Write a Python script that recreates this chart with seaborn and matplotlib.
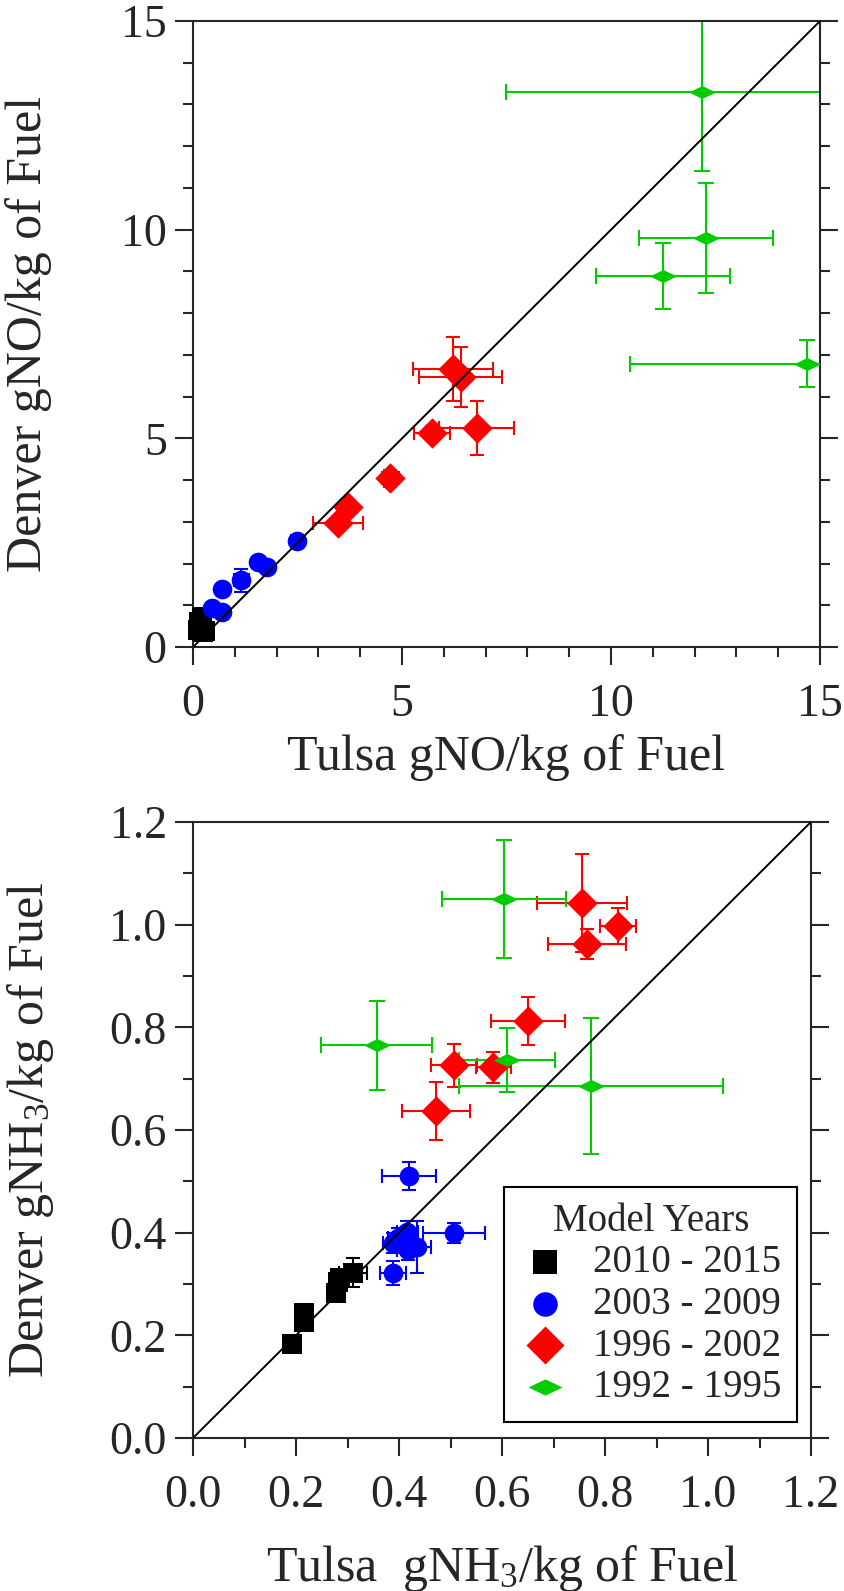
import matplotlib
matplotlib.use("Agg")
import matplotlib.pyplot as plt
import seaborn as sns
from matplotlib.ticker import MultipleLocator

# -----------------------------------------------------------------------------
# DATOS
# -----------------------------------------------------------------------------
labels = ["2010 - 2015", "2003 - 2009", "1996 - 2002", "1992 - 1995"]
colors = ["#000000", "#0000FF", "#FF0000", "#00CC00"]

# Panel superior: gNO/kg de combustible
no_tulsa_2010 = [0.12, 0.20, 0.25, 0.15, 0.22, 0.28]
no_denver_2010 = [0.40, 0.45, 0.35, 0.60, 0.72, 0.38]
no_xerr_2010 = [0.05, 0.05, 0.05, 0.05, 0.05, 0.05]
no_yerr_2010 = [0.05, 0.05, 0.05, 0.05, 0.05, 0.05]

no_tulsa_2003 = [2.49, 1.77, 1.55, 1.15, 0.69, 0.45, 0.69]
no_denver_2003 = [2.54, 1.91, 2.03, 1.60, 1.39, 0.93, 0.84]
no_xerr_2003 = [0.10, 0.12, 0.12, 0.18, 0.08, 0.08, 0.08]
no_yerr_2003 = [0.15, 0.10, 0.10, 0.28, 0.08, 0.08, 0.08]

no_tulsa_1996 = [6.22, 6.40, 6.79, 5.72, 4.72, 3.70, 3.46]
no_denver_1996 = [6.67, 6.46, 5.24, 5.14, 4.04, 3.35, 2.97]
no_xerr_1996 = [0.95, 1.00, 0.90, 0.43, 0.20, 0.15, 0.60]
no_yerr_1996 = [0.77, 0.72, 0.65, 0.15, 0.20, 0.15, 0.12]

no_tulsa_1992 = [12.18, 12.27, 11.25, 14.69]
no_denver_1992 = [13.30, 9.81, 8.90, 6.79]
no_xerr_1992 = [4.69, 1.60, 1.60, 4.24]
no_yerr_1992 = [1.90, 1.32, 0.79, 0.56]

# Panel inferior: gNH3/kg de combustible
nh3_tulsa_2010 = [0.192, 0.216, 0.216, 0.278, 0.282, 0.285, 0.311]
nh3_denver_2010 = [0.183, 0.226, 0.243, 0.282, 0.304, 0.312, 0.322]
nh3_xerr_2010 = [0.010, 0.010, 0.010, 0.012, 0.012, 0.012, 0.027]
nh3_yerr_2010 = [0.010, 0.010, 0.010, 0.012, 0.012, 0.012, 0.028]

nh3_tulsa_2003 = [0.419, 0.507, 0.388, 0.416, 0.388, 0.417, 0.435, 0.398]
nh3_denver_2003 = [0.510, 0.399, 0.321, 0.401, 0.380, 0.366, 0.372, 0.389]
nh3_xerr_2003 = [0.052, 0.060, 0.025, 0.020, 0.020, 0.020, 0.028, 0.020]
nh3_yerr_2003 = [0.027, 0.020, 0.024, 0.022, 0.020, 0.020, 0.050, 0.020]

nh3_tulsa_1996 = [0.755, 0.825, 0.765, 0.650, 0.507, 0.583, 0.472]
nh3_denver_1996 = [1.042, 0.997, 0.962, 0.812, 0.726, 0.722, 0.637]
nh3_xerr_1996 = [0.087, 0.035, 0.075, 0.072, 0.044, 0.034, 0.066]
nh3_yerr_1996 = [0.095, 0.035, 0.030, 0.047, 0.042, 0.030, 0.056]

nh3_tulsa_1992 = [0.604, 0.357, 0.610, 0.773]
nh3_denver_1992 = [1.050, 0.765, 0.736, 0.686]
nh3_xerr_1992 = [0.120, 0.108, 0.093, 0.256]
nh3_yerr_1992 = [0.115, 0.087, 0.063, 0.132]

no_ticks = [0, 5, 10, 15]
nh3_ticks = [0.0, 0.2, 0.4, 0.6, 0.8, 1.0, 1.2]

# -----------------------------------------------------------------------------
# ESTILO
# -----------------------------------------------------------------------------
sns.set_style("ticks")
plt.rcParams["font.family"] = ["Liberation Serif", "DejaVu Serif"]
plt.rcParams["mathtext.fontset"] = "custom"
plt.rcParams["mathtext.rm"] = "Liberation Serif"
plt.rcParams["mathtext.default"] = "regular"

# marcador verde: rombo achatado
flat_diamond = [(-1, 0), (0, 0.48), (1, 0), (0, -0.48), (-1, 0)]
markers = ["s", "o", "D", flat_diamond]
sizes = [190, 200, 240, 380]
caps = [5, 5, 5, 5.5]


def draw_panel(ax, groups, lim, ticks, minor, fmt):
    for (x, y, xe, ye), lab, col, mk, sz, cp in zip(
        groups, labels, colors, markers, sizes, caps
    ):
        ax.errorbar(
            x, y, xerr=xe, yerr=ye, fmt="none", ecolor=col,
            elinewidth=1.5, capsize=cp, capthick=1.5, zorder=2,
        )
        sns.scatterplot(
            x=x, y=y, marker=mk, s=sz, color=col, edgecolor=col,
            linewidth=0, label=lab, ax=ax, zorder=3, clip_on=False,
        )
    ax.plot([0, lim], [0, lim], color="black", linewidth=1.4, zorder=5)
    ax.set_xlim(0, lim)
    ax.set_ylim(0, lim)
    ax.set_xticks(ticks)
    ax.set_yticks(ticks)
    ax.set_xticklabels([fmt.format(t) for t in ticks])
    ax.set_yticklabels([fmt.format(t) for t in ticks])
    ax.xaxis.set_minor_locator(MultipleLocator(minor))
    ax.yaxis.set_minor_locator(MultipleLocator(minor))
    for sp in ax.spines.values():
        sp.set_visible(True)
        sp.set_linewidth(1.5)
    ax.tick_params(which="both", direction="out", top=False, right=True,
                   width=1.5, labelsize=33)
    ax.tick_params(which="major", length=13)
    ax.tick_params(which="minor", length=7)
    ax.tick_params(axis="y", which="major", pad=6)
    ax.tick_params(axis="x", which="major", pad=13)


fig = plt.figure(figsize=(8.44, 15.91), dpi=100)
ax1 = fig.add_axes([0.2287, 0.5933, 0.7429, 0.3935])
ax2 = fig.add_axes([0.2287, 0.0962, 0.7322, 0.3872])

draw_panel(
    ax1,
    [
        (no_tulsa_2010, no_denver_2010, no_xerr_2010, no_yerr_2010),
        (no_tulsa_2003, no_denver_2003, no_xerr_2003, no_yerr_2003),
        (no_tulsa_1996, no_denver_1996, no_xerr_1996, no_yerr_1996),
        (no_tulsa_1992, no_denver_1992, no_xerr_1992, no_yerr_1992),
    ],
    15, no_ticks, 1, "{:d}",
)
ax1.legend_.remove()
ax1.set_xlabel("Tulsa gNO/kg of Fuel", fontsize=36)
ax1.set_ylabel("Denver gNO/kg of Fuel", fontsize=36)
ax1.xaxis.set_label_coords(0.5, -0.176)
ax1.xaxis.label.set_va("center")
ax1.yaxis.set_label_coords(-0.262, 0.5)
ax1.yaxis.label.set_va("center")

draw_panel(
    ax2,
    [
        (nh3_tulsa_2010, nh3_denver_2010, nh3_xerr_2010, nh3_yerr_2010),
        (nh3_tulsa_2003, nh3_denver_2003, nh3_xerr_2003, nh3_yerr_2003),
        (nh3_tulsa_1996, nh3_denver_1996, nh3_xerr_1996, nh3_yerr_1996),
        (nh3_tulsa_1992, nh3_denver_1992, nh3_xerr_1992, nh3_yerr_1992),
    ],
    1.2, nh3_ticks, 0.1, "{:.1f}",
)
ax2.set_xlabel("Tulsa  gNH$_3$/kg of Fuel", fontsize=36)
ax2.set_ylabel("Denver gNH$_3$/kg of Fuel", fontsize=36)
ax2.xaxis.set_label_coords(0.5, -0.212)
ax2.xaxis.label.set_va("center")
ax2.yaxis.set_label_coords(-0.263, 0.5)
ax2.yaxis.label.set_va("center")

leg = ax2.legend(
    title="Model Years", loc="lower right", bbox_to_anchor=(0.978, 0.026),
    borderaxespad=0, fontsize=28, title_fontsize=28, frameon=True,
    fancybox=False, edgecolor="black", framealpha=1, markerscale=1.25,
    labelspacing=0.12, handlelength=1.3, handletextpad=0.6, borderpad=0.4,
)
leg.get_frame().set_linewidth(1.5)

fig.savefig("out.png", dpi=100)
